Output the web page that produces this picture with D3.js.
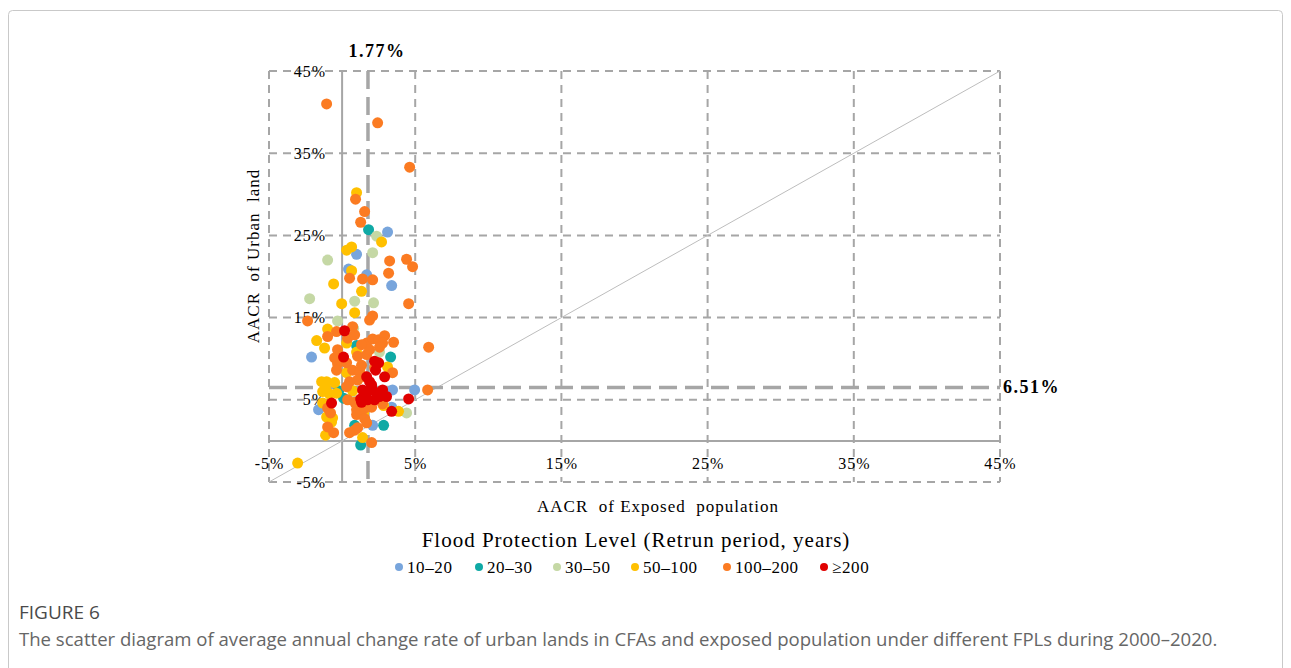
<!DOCTYPE html>
<html>
<head>
<meta charset="utf-8">
<script src="https://cdn.jsdelivr.net/npm/d3@7"></script>
<style>
  body { margin: 0; background: #fff; }
  svg { display: block; }
</style>
</head>
<body>
<svg id="chart" width="1291" height="668"></svg>
<script>
// AACR of exposed population (x, %) vs AACR of urban land (y, %)
const fpl10_20 = [[0.99,22.7],[3.11,25.4],[0.44,20.9],[1.68,20.2],[3.39,18.9],[-2.09,10.2],
  [3.45,6.2],[4.96,6.2],[-1.61,3.8],[3.39,4.1],[2.09,1.9]];
const fpl20_30 = [[1.81,25.7],[0.99,11.6],[3.32,10.2],[0.10,5.2],[-0.24,6.1],[2.84,1.9],
  [0.86,1.9],[1.27,-0.5]];
const fpl30_50 = [[2.36,24.9],[2.09,22.9],[-0.99,22.0],[-2.22,17.3],[0.86,17.0],[2.15,16.8],
  [-0.31,14.6],[0.79,13.7],[2.56,10.8],[0.65,5.1],[4.41,3.4]];
const fpl50_100 = [[0.99,30.2],[2.70,24.2],[0.31,23.2],[0.65,23.6],[0.65,20.7],[-0.58,19.1],
  [1.33,18.2],[-0.03,16.7],[0.86,15.6],[-0.99,13.6],[-1.74,12.2],[0.31,11.9],[-1.20,11.3],
  [0.99,10.8],[3.11,9.0],[0.31,8.3],[-1.06,7.2],[-1.40,7.2],[-0.51,7.1],[-1.13,6.4],
  [-1.33,6.0],[-0.86,5.7],[-0.38,5.8],[0.72,6.1],[-1.33,4.6],[2.84,4.3],[3.86,3.6],
  [1.47,3.4],[-1.06,2.9],[-0.65,2.8],[-0.72,2.3],[-1.13,0.7],[1.40,0.4],[-3.04,-2.7]];
const fpl100_200 = [[-1.06,41.0],[2.43,38.7],[4.62,33.3],[0.92,29.4],[1.54,27.9],[1.27,26.6],
  [3.25,21.9],[4.41,22.1],[4.82,21.2],[3.18,20.4],[0.51,19.8],[1.40,19.7],[2.09,19.6],
  [4.55,16.7],[2.09,15.2],[1.88,14.7],[-2.36,14.6],[-0.38,13.3],[-0.99,12.7],[0.38,12.5],
  [0.72,13.9],[0.86,12.9],[1.68,11.9],[2.09,12.4],[2.50,12.3],[2.91,12.8],[2.77,11.9],
  [3.52,12.0],[5.92,11.4],[-0.31,11.1],[-0.51,10.1],[1.06,10.3],[1.68,10.5],[-0.31,9.4],
  [0.31,9.5],[3.45,8.3],[-0.38,8.6],[0.72,8.6],[1.20,8.4],[1.54,7.8],[1.06,7.4],[0.51,7.2],
  [0.31,6.6],[5.85,6.2],[0.38,5.0],[0.86,4.7],[2.77,4.5],[1.54,4.0],[2.02,4.1],[-0.99,4.0],
  [0.99,3.8],[1.40,3.8],[-0.79,3.4],[0.99,3.2],[1.54,2.7],[1.68,2.2],[-0.99,1.7],[1.06,1.6],
  [0.86,1.3],[0.51,1.0],[-0.58,1.0],[2.02,-0.2],[1.33,9.2],[2.22,8.9],[1.88,11.1],
  [1.33,11.7],[2.56,11.4]];
const fpl200 = [[0.17,13.4],[0.10,10.2],[2.22,9.7],[2.50,9.5],[2.91,7.8],[1.68,7.8],[2.02,6.8],
  [1.74,6.0],[2.09,6.2],[2.36,5.8],[2.56,5.4],[3.04,5.4],[1.27,5.1],[1.74,5.0],[4.55,5.1],
  [-0.72,4.6],[1.33,4.7],[3.39,3.6],[2.22,5.0],[2.77,6.2],[1.88,7.2],[1.40,6.2],[2.29,8.6]];

const groups = ["10–20", "20–30", "30–50", "50–100", "100–200", "≥200"];
const groupColors = ["#78a5dc", "#0fa9a5", "#c5d8a5", "#ffc000", "#fb7b22", "#e00000"];
const groupData = [fpl10_20, fpl20_30, fpl30_50, fpl50_100, fpl100_200, fpl200];

const ticks = [-5, 5, 15, 25, 35, 45];
const meanX = 1.77;   // mean AACR of exposed population
const meanY = 6.51;   // mean AACR of urban land

const serif = "'Liberation Serif', 'Times New Roman', serif";
const grey = "#a6a6a6";

const svg = d3.select("#chart");

// card frame
svg.append("rect")
  .attr("x", 8.5).attr("y", 10.5)
  .attr("width", 1274).attr("height", 700)
  .attr("rx", 4)
  .attr("fill", "none")
  .attr("stroke", "#c9c9c9");

const x = d3.scaleLinear().domain([-5, 45]).range([269, 1000]);
const y = d3.scaleLinear().domain([-5, 45]).range([482, 71]);

const plot = svg.append("g");

// dashed grid
plot.selectAll("line.vgrid")
  .data(ticks)
  .enter().append("line")
    .attr("class", "vgrid")
    .attr("x1", d => x(d)).attr("x2", d => x(d))
    .attr("y1", y(45)).attr("y2", y(-5))
    .attr("stroke", grey).attr("stroke-width", 2)
    .attr("stroke-dasharray", "8,6");

plot.selectAll("line.hgrid")
  .data(ticks)
  .enter().append("line")
    .attr("class", "hgrid")
    .attr("x1", x(-5)).attr("x2", x(45))
    .attr("y1", d => y(d)).attr("y2", d => y(d))
    .attr("stroke", grey).attr("stroke-width", 2)
    .attr("stroke-dasharray", "8,6");

// zero axes
plot.append("line")
  .attr("x1", x(0)).attr("x2", x(0))
  .attr("y1", y(45)).attr("y2", y(-5))
  .attr("stroke", grey).attr("stroke-width", 2);
plot.append("line")
  .attr("x1", x(-5)).attr("x2", x(45))
  .attr("y1", y(0)).attr("y2", y(0))
  .attr("stroke", grey).attr("stroke-width", 2);

// 1:1 line
plot.append("line")
  .attr("x1", x(-5)).attr("y1", y(-5))
  .attr("x2", x(45)).attr("y2", y(45))
  .attr("stroke", "#bdbdbd").attr("stroke-width", 1);

// mean lines
plot.append("line")
  .attr("x1", x(meanX)).attr("x2", x(meanX))
  .attr("y1", y(45)).attr("y2", y(-5))
  .attr("stroke", grey).attr("stroke-width", 3.5)
  .attr("stroke-dasharray", "18,8");
plot.append("line")
  .attr("x1", x(-5)).attr("x2", x(45))
  .attr("y1", y(meanY)).attr("y2", y(meanY))
  .attr("stroke", grey).attr("stroke-width", 3.5)
  .attr("stroke-dasharray", "18,8");

// tick labels
plot.selectAll("text.xlab")
  .data(ticks)
  .enter().append("text")
    .attr("x", d => x(d) + 0.5)
    .attr("y", y(0) + 28)
    .attr("text-anchor", "middle")
    .style("font", `16px ${serif}`)
    .style("letter-spacing", "1px")
    .text(d => d + "%");

plot.selectAll("text.ylab")
  .data(ticks)
  .enter().append("text")
    .attr("x", x(0) - 16)
    .attr("y", d => y(d) + 5.5)
    .attr("text-anchor", "end")
    .style("font", `16px ${serif}`)
    .style("letter-spacing", "1px")
    .text(d => d + "%");

plot.append("text")
  .attr("x", x(meanX) + 9).attr("y", y(45) - 14)
  .attr("text-anchor", "middle")
  .style("font", `bold 18px ${serif}`)
  .style("letter-spacing", "1.5px")
  .text(meanX.toFixed(2) + "%");
plot.append("text")
  .attr("x", x(45) + 3).attr("y", y(meanY) + 6)
  .style("font", `bold 18px ${serif}`)
  .style("letter-spacing", "1.5px")
  .text(meanY.toFixed(2) + "%");

// axis titles
svg.append("text")
  .attr("transform", `translate(259, 256) rotate(-90)`)
  .attr("text-anchor", "middle")
  .style("font", `17px ${serif}`)
  .style("letter-spacing", "1px")
  .style("white-space", "pre")
  .text("AACR  of Urban  land");
svg.append("text")
  .attr("x", 658).attr("y", 512)
  .attr("text-anchor", "middle")
  .style("font", `17px ${serif}`)
  .style("letter-spacing", "1px")
  .style("white-space", "pre")
  .text("AACR  of Exposed  population");

// points
groupData.forEach((pts, i) => {
  plot.append("g")
    .selectAll("circle")
    .data(pts)
    .enter().append("circle")
      .attr("cx", d => x(d[0]))
      .attr("cy", d => y(d[1]))
      .attr("r", 5.5)
      .attr("fill", groupColors[i]);
});

// legend
svg.append("text")
  .attr("x", 636).attr("y", 547)
  .attr("text-anchor", "middle")
  .style("font", `21px ${serif}`)
  .style("letter-spacing", "1px")
  .text("Flood Protection Level (Retrun period, years)");

const legendX = [399, 479, 557, 635, 727, 824];
const legend = svg.append("g").selectAll("g")
  .data(groups)
  .enter().append("g")
    .attr("transform", (d, i) => `translate(${legendX[i]}, 567)`);
legend.append("circle")
  .attr("r", 4)
  .attr("fill", (d, i) => groupColors[i]);
legend.append("text")
  .attr("x", 8).attr("y", 5.5)
  .style("font", `17px ${serif}`)
  .style("letter-spacing", "0.6px")
  .text(d => d);

// caption
svg.append("text")
  .attr("x", 19).attr("y", 619)
  .style("font", "19px 'Open Sans', sans-serif")
  .attr("fill", "#4a4a4a")
  .text("FIGURE 6");
const caption = svg.append("text")
  .attr("x", 19).attr("y", 646)
  .style("font", "18px 'Open Sans', sans-serif")
  .attr("fill", "#666")
  .text("The scatter diagram of average annual change rate of urban lands in CFAs and exposed population under different FPLs during 2000–2020.");
// fit the caption to the width it takes in the figure
const capW = caption.node().getComputedTextLength();
caption.style("font-size", (18 * 1199 / capW).toFixed(2) + "px");
</script>
</body>
</html>
